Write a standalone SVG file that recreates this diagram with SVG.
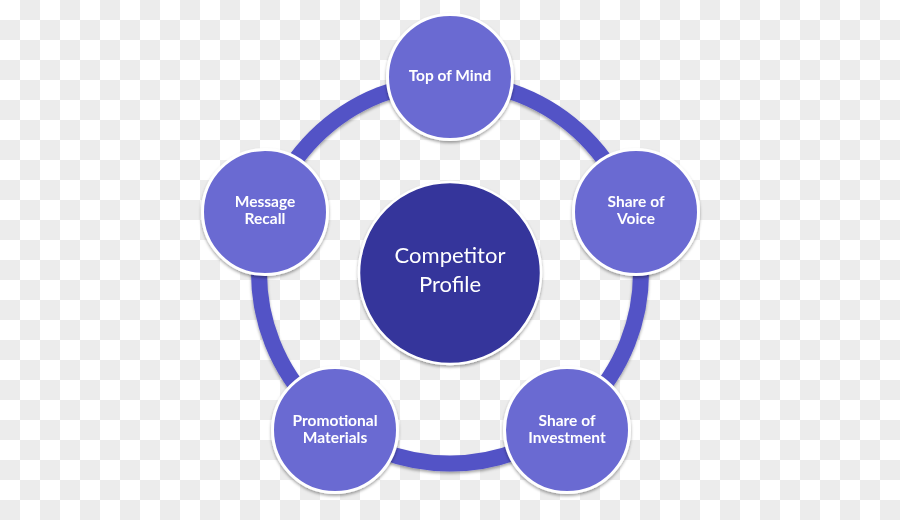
<svg xmlns="http://www.w3.org/2000/svg" width="900" height="520" viewBox="0 0 900 520">
<defs>
<pattern id="checker" width="40" height="40" patternUnits="userSpaceOnUse">
<rect width="40" height="40" fill="#ffffff"/>
<rect x="20" y="0" width="20" height="20" fill="#ececec"/>
<rect x="0" y="20" width="20" height="20" fill="#ececec"/>
</pattern>
<filter id="shadow" x="-20%" y="-20%" width="140%" height="140%">
<feDropShadow dx="0" dy="2" stdDeviation="1.8" flood-color="#000000" flood-opacity="0.35"/>
</filter>
</defs>
<style>
.ring { fill: none; stroke: #5252c6; stroke-width: 16; }
.node { fill: #6a6ad2; stroke: #ffffff; stroke-width: 3; }
.core { fill: #34359b; stroke: #ffffff; stroke-width: 2.5; }
.lbl { font-family: Lato, "Open Sans", "Liberation Sans", sans-serif; font-weight: bold; font-size: 15.5px; fill: #ffffff; text-anchor: middle; }
.big { font-family: Lato, "Open Sans", "Liberation Sans", sans-serif; font-size: 22px; fill: #ffffff; text-anchor: middle; }
</style>
<rect width="900" height="520" fill="url(#checker)"/>
<g id="connectors" filter="url(#shadow)">
<circle class="ring" cx="450" cy="272.5" r="191"/>
</g>
<g id="center" filter="url(#shadow)">
<circle class="core" cx="450" cy="273" r="91"/>
<text class="big" x="450" y="263">Competitor</text>
<text class="big" x="450" y="292">Profile</text>
</g>
<g id="top-of-mind" filter="url(#shadow)">
<circle class="node" cx="450" cy="77" r="62.5"/>
<text class="lbl" x="450" y="81">Top of Mind</text>
</g>
<g id="share-of-voice" filter="url(#shadow)">
<circle class="node" cx="636" cy="212" r="62.5"/>
<text class="lbl" x="636" y="207">Share of</text>
<text class="lbl" x="636" y="224">Voice</text>
</g>
<g id="share-of-investment" filter="url(#shadow)">
<circle class="node" cx="567" cy="430" r="62.5"/>
<text class="lbl" x="567" y="426">Share of</text>
<text class="lbl" x="567" y="443">Investment</text>
</g>
<g id="promotional-materials" filter="url(#shadow)">
<circle class="node" cx="335" cy="430" r="62.5"/>
<text class="lbl" x="335" y="426">Promotional</text>
<text class="lbl" x="335" y="443">Materials</text>
</g>
<g id="message-recall" filter="url(#shadow)">
<circle class="node" cx="265" cy="212" r="62.5"/>
<text class="lbl" x="265" y="207">Message</text>
<text class="lbl" x="265" y="224">Recall</text>
</g>
</svg>
